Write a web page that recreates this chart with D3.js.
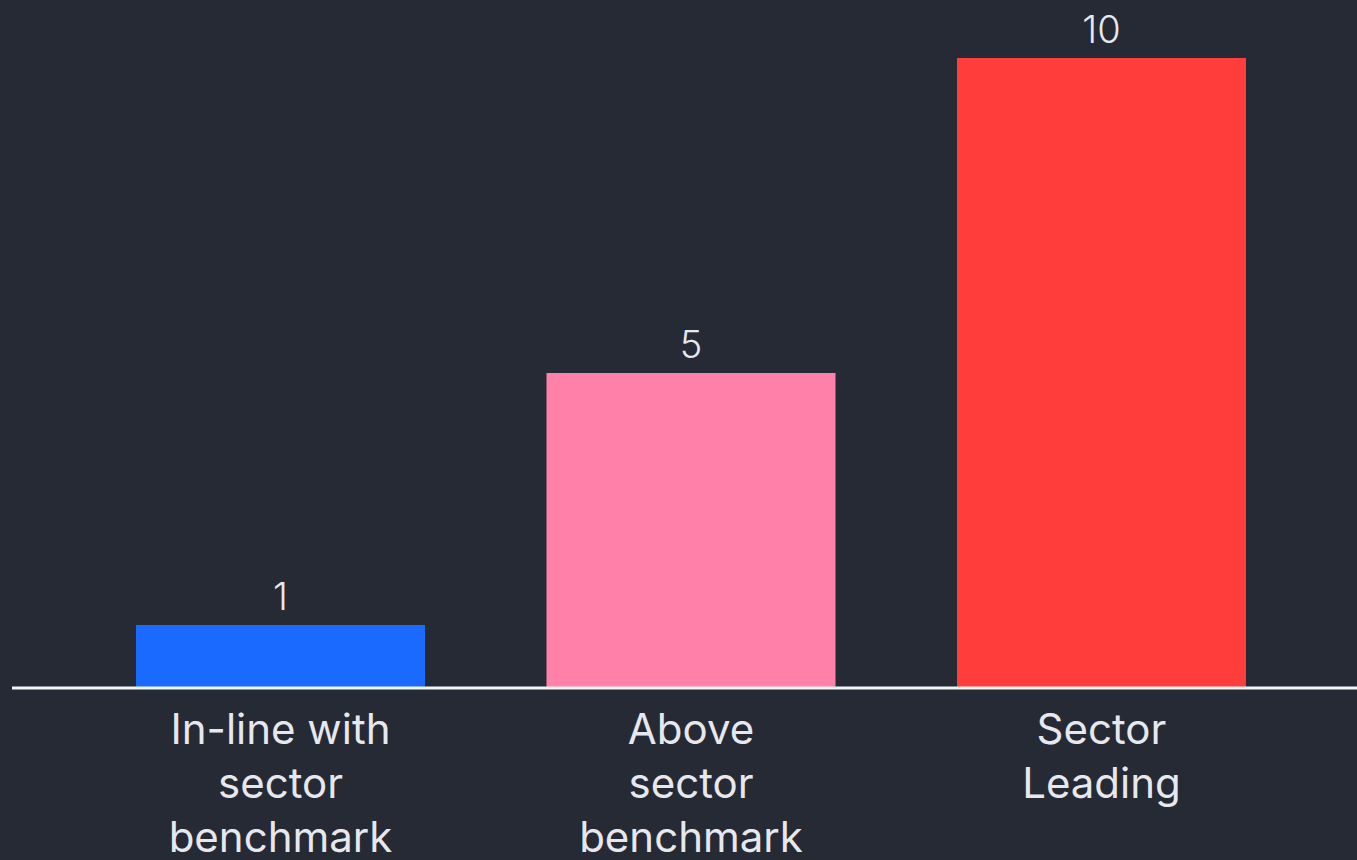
<!DOCTYPE html>
<html>
<head>
<meta charset="utf-8">
<script src="https://cdn.jsdelivr.net/npm/d3@7"></script>
<style>
  html, body { margin: 0; padding: 0; background: #252a34; }
  svg { display: block; }
</style>
</head>
<body>
<svg id="chart" width="1357" height="860"></svg>
<script>
// Chart data
const categories = ["In-line with sector benchmark", "Above sector benchmark", "Sector Leading"];
const labelLines = [["In-line with", "sector", "benchmark"], ["Above", "sector", "benchmark"], ["Sector", "Leading"]];
const values = [1, 5, 10];
const barColors = ["#1a6aff", "#ff80a8", "#ff3e3b"];

const W = 1357, H = 860;
const svg = d3.select("#chart");
svg.append("rect").attr("width", W).attr("height", H).attr("fill", "#252a34");

const x = d3.scaleBand()
  .domain(categories)
  .range([14.5, 1367.5])
  .paddingInner(0.296)
  .paddingOuter(0.296);

const y = d3.scaleLinear().domain([0, 10]).range([688, 58]);

const font = "Inter, 'Open Sans', sans-serif";

// Bars
svg.selectAll("rect.bar")
  .data(values)
  .join("rect")
  .attr("class", "bar")
  .attr("x", (d, i) => x(categories[i]))
  .attr("width", x.bandwidth())
  .attr("y", d => y(d))
  .attr("height", d => y(0) - y(d))
  .attr("fill", (d, i) => barColors[i]);

// Value labels
svg.selectAll("text.val")
  .data(values)
  .join("text")
  .attr("class", "val")
  .attr("x", (d, i) => x(categories[i]) + x.bandwidth() / 2)
  .attr("y", d => y(d) - 15)
  .attr("text-anchor", "middle")
  .attr("fill", "#e6e8ee")
  .attr("font-family", font)
  .attr("font-weight", 300)
  .attr("font-size", 38)
  .text(d => d);

// Baseline axis
const axis = d3.axisBottom(x).tickSize(0).tickFormat("");
const gAxis = svg.append("g").attr("transform", `translate(0,${y(0)})`).call(axis);
gAxis.select(".domain").remove();
gAxis.append("line")
  .attr("x1", 12).attr("x2", W)
  .attr("y1", 0).attr("y2", 0)
  .attr("stroke", "#f2f3f7").attr("stroke-width", 3);

// Category labels (wrapped)
categories.forEach((c, i) => {
  const t = svg.append("text")
    .attr("x", x(c) + x.bandwidth() / 2)
    .attr("y", 744)
    .attr("text-anchor", "middle")
    .attr("fill", "#e6e8ee")
    .attr("font-family", font)
    .attr("font-size", 42);
  labelLines[i].forEach((ln, j) => {
    t.append("tspan")
      .attr("x", x(c) + x.bandwidth() / 2)
      .attr("dy", j === 0 ? 0 : 54)
      .text(ln);
  });
});
</script>
</body>
</html>
